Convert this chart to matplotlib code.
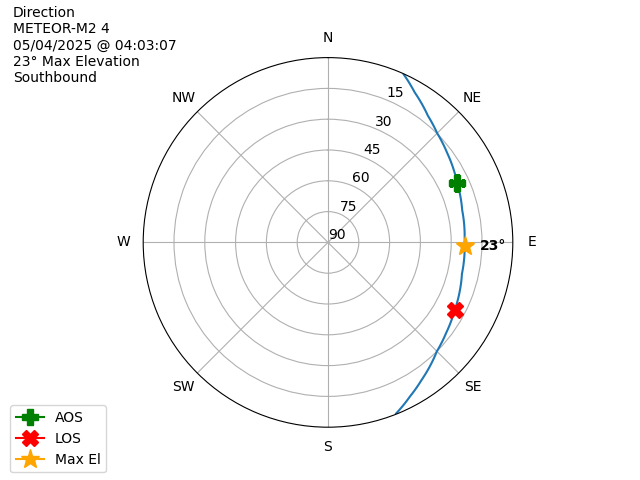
import numpy as np
import matplotlib
matplotlib.use("Agg")
import matplotlib.pyplot as plt

# pass track (azimuth deg, elevation deg)
track_az = [24.3, 30.0, 38.2, 45.0, 53.0, 65.2, 76.6, 87.8, 91.7,
            103.2, 118.2, 127.5, 135.0, 145.9, 152.0, 158.3]
track_el = [0.3, 5.6, 11.4, 14.8, 17.4, 20.7, 22.8, 23.4, 23.4,
            23.0, 20.0, 17.5, 15.0, 8.9, 5.0, 0.3]

aos_az, aos_el = 65.2, 20.7
los_az, los_el = 118.2, 20.0
max_az, max_el = 91.7, 23.4

compass = ['N', 'NE', 'E', 'SE', 'S', 'SW', 'W', 'NW']
rticks = [0, 15, 30, 45, 60, 75]
rlabels = ['90', '75', '60', '45', '30', '15']

info = "Direction\nMETEOR-M2 4\n05/04/2025 @ 04:03:07\n23° Max Elevation\nSouthbound"

fig = plt.figure(figsize=(6.4, 4.8), dpi=100)
ax = fig.add_subplot(111, projection='polar')
ax.set_theta_zero_location('N')
ax.set_theta_direction(-1)

track, = ax.plot(np.radians(track_az), 90 - np.array(track_el), color='C0')
# let the polar transform bend each segment instead of drawing straight chords
track.get_path()._interpolation_steps = 40

ax.plot(np.radians(aos_az), 90 - aos_el, color='green', marker='P', markersize=12, label='AOS')
ax.plot(np.radians(los_az), 90 - los_el, color='red', marker='X', markersize=12, label='LOS')
ax.plot(np.radians(max_az), 90 - max_el, color='orange', marker='*', markersize=14, label='Max El')
ax.annotate('23°', (np.radians(max_az), 90 - max_el), xytext=(11, 0),
            textcoords='offset points', fontweight='bold', va='center')

ax.set_rlim(0, 90)
ax.set_yticks(rticks)
ax.set_yticklabels(rlabels)
ax.set_xticks(np.radians(np.arange(0, 360, 45)))
ax.set_xticklabels(compass)

fig.text(0.02, 0.987, info, ha='left', va='top', fontsize=10)
fig.legend(loc='lower left', bbox_to_anchor=(0.0053, 0.0016))

fig.savefig('out.png')
